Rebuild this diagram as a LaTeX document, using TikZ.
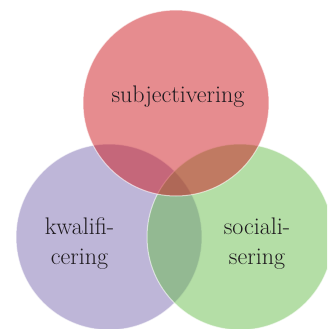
\documentclass[tikz,border=0pt]{standalone}
\definecolor{subjred}{RGB}{205,25,31}
\definecolor{kwalpurple}{RGB}{125,109,177}
\definecolor{socgreen}{RGB}{105,189,77}
\definecolor{lbltext}{RGB}{30,26,30}

\begin{document}
\begin{tikzpicture}[x=1pt,y=-1pt,
  vennring/.style={circle,minimum size=186pt,inner sep=0pt,fill opacity=0.5,
    draw=white,draw opacity=0.6,line width=1pt},
  lbl/.style={font=\fontsize{24}{30}\selectfont,text=lbltext,align=center}]
  \useasboundingbox (0,0) rectangle (327,329);
  \clip (0,0) rectangle (327,329);
  % the three circles, red on top
  \node[vennring,fill=kwalpurple] (kwal) at (109,237) {};
  \node[vennring,fill=socgreen]   (soc)  at (240,237) {};
  \node[vennring,fill=subjred]    (subj) at (176,103) {};

  \node[lbl,anchor=base] (subjtxt) at (178,102) {subjectivering};
  \node[lbl]             (kwaltxt) at (79.5,244) {kwalifi-\\cering};
  \node[lbl]             (soctxt)  at (257,244)  {sociali-\\sering};
\end{tikzpicture}
\end{document}
